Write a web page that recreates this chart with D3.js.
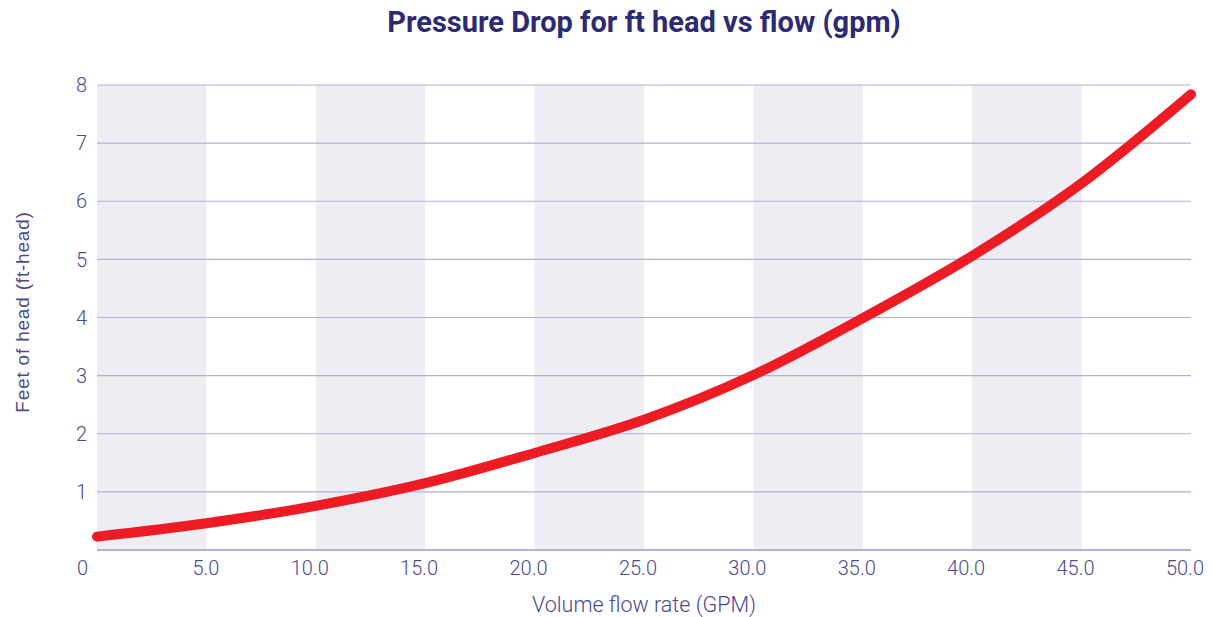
<!DOCTYPE html>
<html>
<head>
<meta charset="utf-8">
<script src="https://cdn.jsdelivr.net/npm/d3@7"></script>
<style>
  body { margin: 0; background: #fff; }
  svg { display: block; }
</style>
</head>
<body>
<div id="grafica"></div>
<script>
// Datos
const flujoGPM = [0, 5, 10, 15, 20, 25, 30, 35, 40, 45, 50];
const pieCabeza = [0.23, 0.46, 0.76, 1.15, 1.67, 2.24, 3.01, 3.99, 5.06, 6.31, 7.84];
const ticksX = [0, 5, 10, 15, 20, 25, 30, 35, 40, 45, 50];
const etiquetasX = ["0", "5.0", "10.0", "15.0", "20.0", "25.0", "30.0", "35.0", "40.0", "45.0", "50.0"];
const ticksY = [1, 2, 3, 4, 5, 6, 7, 8];

const ancho = 1213, altura = 617;
const margen = { arriba: 85, derecha: 22, abajo: 67, izquierda: 97 };

const svg = d3.select("#grafica").append("svg")
    .attr("width", ancho)
    .attr("height", altura);

const x = d3.scaleLinear()
    .domain([0, 50])
    .range([margen.izquierda, ancho - margen.derecha]);

const y = d3.scaleLinear()
    .domain([0, 8])
    .range([altura - margen.abajo, margen.arriba]);

const colorTexto = "#4b4a8c";

// Bandas grises alternas
const bandas = ticksX.slice(0, -1).filter((d, i) => i % 2 === 0);
svg.append("g").selectAll("rect")
    .data(bandas)
    .enter().append("rect")
    .attr("x", d => x(d))
    .attr("y", y(8))
    .attr("width", d => x(d + 5) - x(d))
    .attr("height", y(0) - y(8))
    .attr("fill", "#eeedf4");

// Lineas de la cuadricula
svg.append("g").selectAll("line")
    .data([0].concat(ticksY))
    .enter().append("line")
    .attr("x1", x(0))
    .attr("x2", x(50))
    .attr("y1", d => y(d))
    .attr("y2", d => y(d))
    .attr("stroke", "#b4b2d2")
    .attr("stroke-width", d => d === 0 ? 1.8 : 1.2);

// Etiquetas eje Y
svg.append("g").selectAll("text")
    .data(ticksY)
    .enter().append("text")
    .attr("x", x(0) - 10)
    .attr("y", d => y(d))
    .attr("dy", "0.36em")
    .attr("text-anchor", "end")
    .attr("font-family", "Roboto")
    .attr("font-weight", 300)
    .attr("font-size", 20)
    .attr("fill", colorTexto)
    .text(d => d);

// Etiquetas eje X
svg.append("g").selectAll("text")
    .data(ticksX)
    .enter().append("text")
    .attr("x", (d, i) => i === 0 ? x(d) - 9 : x(d) + 13)
    .attr("y", y(0) + 25)
    .attr("text-anchor", "end")
    .attr("font-family", "Roboto")
    .attr("font-weight", 300)
    .attr("font-size", 20)
    .attr("fill", colorTexto)
    .text((d, i) => etiquetasX[i]);

// Curva
const linea = d3.line()
    .x((d, i) => x(flujoGPM[i]))
    .y(d => y(d))
    .curve(d3.curveMonotoneX);

svg.append("path")
    .datum(pieCabeza)
    .attr("d", linea)
    .attr("fill", "none")
    .attr("stroke", "#ed1c24")
    .attr("stroke-width", 10)
    .attr("stroke-linecap", "round");

// Titulo
svg.append("text")
    .attr("x", (x(0) + x(50)) / 2)
    .attr("y", 32)
    .attr("text-anchor", "middle")
    .attr("font-family", "Roboto")
    .attr("font-weight", 700)
    .attr("font-size", 29)
    .attr("fill", "#2e2a72")
    .text("Pressure Drop for ft head vs flow (gpm)");

// Titulos de ejes
svg.append("text")
    .attr("x", (x(0) + x(50)) / 2)
    .attr("y", 612)
    .attr("text-anchor", "middle")
    .attr("font-family", "Roboto")
    .attr("font-weight", 300)
    .attr("font-size", 21.5)
    .attr("fill", colorTexto)
    .text("Volume flow rate (GPM)");

svg.append("text")
    .attr("transform", "translate(29," + 312 + ") rotate(-90)")
    .attr("text-anchor", "middle")
    .attr("font-family", "Liberation Sans")
    .attr("font-size", 19)
    .attr("letter-spacing", 0.8)
    .attr("fill", colorTexto)
    .text("Feet of head (ft-head)");
</script>
</body>
</html>
